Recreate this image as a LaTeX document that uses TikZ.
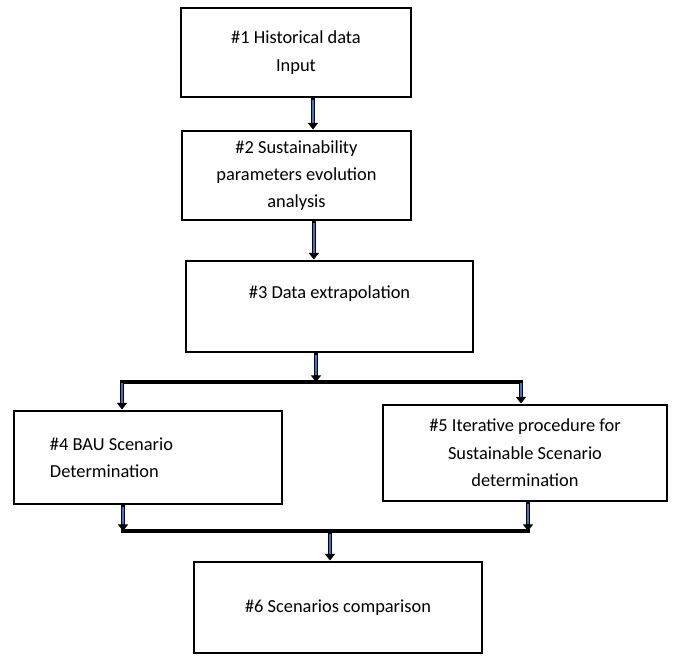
\documentclass[tikz,border=0pt]{standalone}
\usepackage{fontspec}
\setmainfont{Carlito}
\usetikzlibrary{arrows.meta}
\definecolor{shaftblue}{RGB}{68,114,196}
\begin{document}
\begin{tikzpicture}[x=0.75pt,y=-0.75pt,font=\fontsize{13.8}{20.5}\selectfont,
  box/.style={draw,line width=2.2pt,align=center,inner sep=0pt},
  bar/.style={line width=2.4pt,line cap=rect},
  flow/.style={line width=3.4pt,-{Triangle[length=5pt,width=7.5pt]},
    postaction={draw=shaftblue,line width=1.8pt,-,shorten >=5pt,shorten <=.8pt}}]
\useasboundingbox (0,0) rectangle (676,657);
\node[box,minimum width=172.5pt,minimum height=66.75pt] (hist) at (296,52.5) {\#1 Historical data\\Input};
\node[box,minimum width=171.75pt,minimum height=66.75pt] (param) at (296.5,175.5) {\#2 Sustainability\\parameters evolution\\analysis};
\node[box,minimum width=215.25pt,minimum height=68.25pt,text depth=22pt] (extra) at (329.5,306.5) {\#3 Data extrapolation};
\node[box,minimum width=201pt,minimum height=69.75pt,text width=147pt,align=flush left] (bau) at (148,457.5) {\#4 BAU Scenario\\Determination};
\node[box,minimum width=213pt,minimum height=72pt] (iter) at (525,453) {\#5 Iterative procedure for\\Sustainable Scenario\\determination};
\node[box,minimum width=216pt,minimum height=68.25pt] (comp) at (338,607.5) {\#6 Scenarios comparison};
\coordinate (split) at (316,382);
\coordinate (splitl) at (122,382);
\coordinate (splitr) at (521,382);
\coordinate (joinl) at (123,531);
\coordinate (joinr) at (528,531);
\coordinate (joinm) at (330,533);
\draw[flow] ([xshift=12.75pt]hist.south) -- ([xshift=12.75pt]hist.south |- param.north);
\draw[flow] ([xshift=13pt]param.south) -- ([xshift=13pt]param.south |- extra.north);
\draw[flow] (extra.south -| split) -- (split);
\draw[bar] (splitl) -- (splitr);
\draw[flow] (splitl) -- (bau.north -| splitl);
\draw[flow] (splitr) -- (iter.north -| splitr);
\draw[flow] (bau.south -| joinl) -- (joinl);
\draw[flow] (iter.south -| joinr) -- (joinr);
\draw[bar] (joinl) -- (joinr);
\draw[flow] (joinm) -- (comp.north -| joinm);
\end{tikzpicture}
\end{document}
